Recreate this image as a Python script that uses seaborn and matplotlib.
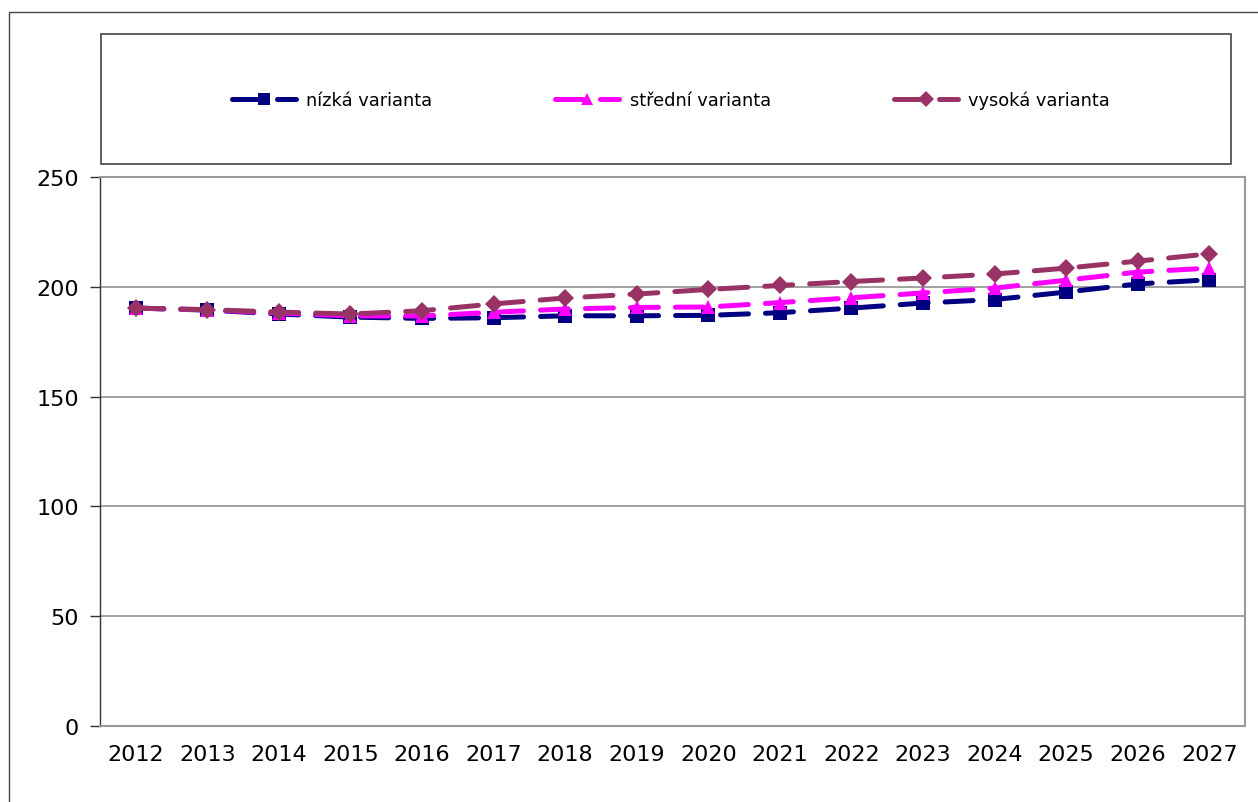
import pandas as pd
import matplotlib.pyplot as plt
import seaborn as sns
from matplotlib.lines import Line2D
from matplotlib.patches import Rectangle
from matplotlib.ticker import FixedLocator

years = [str(y) for y in range(2012, 2028)]
nizka = [190.3, 189.4, 187.6, 186.2, 185.6, 185.9, 186.8, 186.8, 187.0, 188.2, 190.3, 192.6, 194.2, 197.6, 201.3, 203.2]
stredni = [190.3, 189.5, 188.0, 186.8, 186.7, 188.4, 189.9, 190.6, 190.8, 192.8, 195.0, 197.2, 199.4, 203.0, 206.7, 208.5]
vysoka = [190.3, 189.6, 188.5, 187.6, 189.1, 192.2, 194.9, 196.7, 198.8, 200.6, 202.4, 204.0, 205.8, 208.5, 211.7, 215.0]
variants = ["nízká varianta", "střední varianta", "vysoká varianta"]
colors = ["#000080", "#FF00FF", "#993366"]
markers = ["s", "^", "D"]

df = pd.DataFrame({
    "rok": years * 3,
    "hodnota": nizka + stredni + vysoka,
    "varianta": [variants[0]] * 16 + [variants[1]] * 16 + [variants[2]] * 16,
})

sns.set_style("white")
plt.rcParams["font.family"] = ["DejaVu Sans"]
plt.rcParams["text.color"] = "black"
plt.rcParams["xtick.color"] = "black"
plt.rcParams["ytick.color"] = "black"

fig = plt.figure(figsize=(12.58, 8.03), dpi=100)
ax = fig.add_axes([100 / 1258, 76 / 803, 1145 / 1258, 549 / 803])

dash = (5.6, 3.4)
sns.lineplot(data=df, x="rok", y="hodnota", hue="varianta", style="varianta",
             palette=dict(zip(variants, colors)),
             markers=dict(zip(variants, markers)),
             dashes={v: dash for v in variants},
             sort=False, linewidth=3.6, markersize=9.5, markeredgewidth=0,
             dash_capstyle="round", legend=False, ax=ax)

ax.set_xlim(-0.5, len(years) - 0.5)
ax.set_ylim(0, 250)
ax.set_yticks(range(0, 251, 50))
ax.set_xlabel("")
ax.set_ylabel("")
ax.grid(axis="y", color="#999999", linewidth=1.3)
ax.set_axisbelow(True)
ax.xaxis.set_minor_locator(FixedLocator([i - 0.5 for i in range(len(years) + 1)]))
ax.tick_params(axis="x", which="major", length=0, labelsize=16, pad=13)
ax.tick_params(axis="x", which="minor", length=6, width=1.5, color="#999999", direction="out")
ax.tick_params(axis="y", length=7, width=1, color="#333333", direction="out", labelsize=16, pad=8)
ax.tick_params(bottom=True, left=True)
ax.spines["left"].set_color("#333333")
ax.spines["left"].set_linewidth(1)
for side in ["bottom", "right", "top"]:
    ax.spines[side].set_color("#999999")
    ax.spines[side].set_linewidth(1.5)

# legend box
fig.patches.append(Rectangle((101 / 1258, 1 - 165 / 803), 1130 / 1258, 130 / 803,
                             transform=fig.transFigure, fill=False,
                             edgecolor="#444444", linewidth=1.2))
# chart border
fig.patches.append(Rectangle((9 / 1258, -0.1), 1.2, 0.1 + (803 - 13) / 803,
                             transform=fig.transFigure, fill=False,
                             edgecolor="#444444", linewidth=1))

handles = [Line2D([], [], color=c, marker=m, markersize=8, markeredgewidth=0,
                  linewidth=3.6, dashes=dash, dash_capstyle="round")
           for c, m in zip(colors, markers)]
fig.legend(handles, variants, ncol=3, loc="center",
           bbox_to_anchor=(671 / 1258, 1 - 101 / 803), frameon=False,
           fontsize=12.8, handlelength=3.6, handletextpad=0.6, columnspacing=6.9)

fig.savefig("out.png", dpi=100)
